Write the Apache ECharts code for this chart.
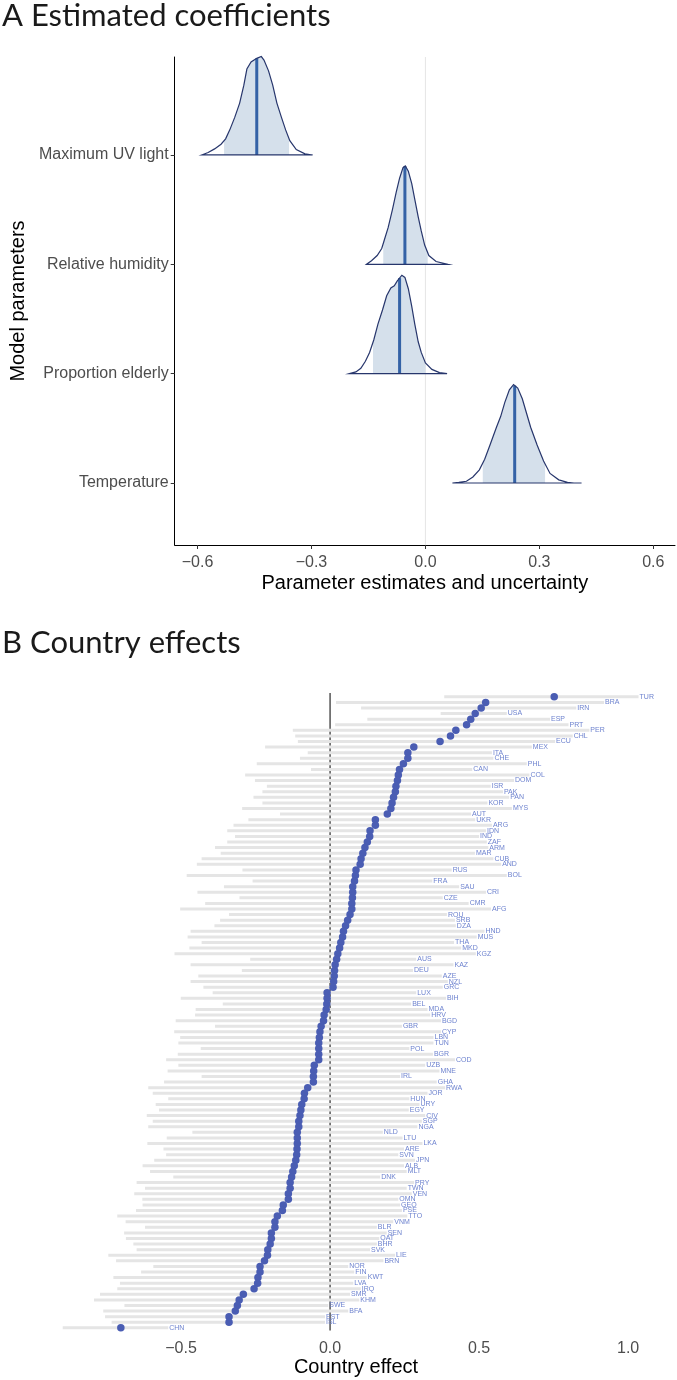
<!DOCTYPE html>
<html><head><meta charset="utf-8">
<script src="https://cdn.jsdelivr.net/npm/echarts@6/dist/echarts.min.js"></script>
<style>html,body{margin:0;padding:0;background:#fff}#c{width:677px;height:1380px}</style>
</head><body><div id="c"></div>
<script>
// ---------- Panel A: estimated coefficients (ridges, bottom to top) ----------
const paramNames = ['Temperature', 'Proportion elderly', 'Relative humidity', 'Maximum UV light'];
const aTicks = [-0.6, -0.3, 0.0, 0.3, 0.6];

const tempX = [0.071,0.088,0.108,0.125,0.142,0.156,0.170,0.187,0.198,0.209,0.221,0.232,0.243,0.255,0.266,0.277,0.294,0.311,0.328,0.351,0.374,0.391,0.411];
const tempH = [0,0.007,0.018,0.061,0.134,0.242,0.386,0.567,0.675,0.819,0.946,1.0,0.964,0.856,0.711,0.567,0.386,0.224,0.097,0.032,0.007,0,0];
const eldX = [-0.200,-0.183,-0.170,-0.158,-0.147,-0.136,-0.125,-0.113,-0.102,-0.091,-0.082,-0.074,-0.062,-0.054,-0.045,-0.036,-0.028,-0.019,-0.011,0.0,0.017,0.037,0.057];
const eldH = [0,0.018,0.054,0.126,0.216,0.342,0.504,0.647,0.791,0.871,0.892,0.942,1.0,0.978,0.863,0.683,0.504,0.324,0.216,0.108,0.043,0.011,0];
const humX = [-0.155,-0.142,-0.127,-0.115,-0.108,-0.098,-0.087,-0.077,-0.068,-0.059,-0.053,-0.045,-0.036,-0.028,-0.019,-0.011,-0.002,0.009,0.028,0.060];
const humH = [0,0.036,0.089,0.161,0.25,0.375,0.554,0.732,0.875,0.982,1.0,0.946,0.821,0.661,0.482,0.339,0.196,0.089,0.029,0];
const uvX = [-0.589,-0.572,-0.555,-0.538,-0.526,-0.515,-0.502,-0.489,-0.478,-0.470,-0.459,-0.444,-0.432,-0.425,-0.413,-0.402,-0.391,-0.379,-0.368,-0.357,-0.340,-0.317,-0.297];
const uvH = [0,0.025,0.062,0.109,0.164,0.255,0.382,0.527,0.709,0.873,0.945,0.982,1.0,0.964,0.855,0.709,0.527,0.382,0.255,0.145,0.055,0.011,0];

const ridgeMedian = [0.235, -0.068, -0.054, -0.444];
const ridgeLow = [0.151, -0.138, -0.111, -0.530];
const ridgeHigh = [0.315, 0.0, 0.006, -0.359];

// ---------- Panel B: country effects (top to bottom) ----------
const countries = ['TUR','BRA','IRN','USA','ESP','PRT','PER','CHL','ECU','MEX',
 'ITA','CHE','PHL','CAN','COL','DOM','ISR','PAK','PAN','KOR',
 'MYS','AUT','UKR','ARG','IDN','IND','ZAF','ARM','MAR','CUB',
 'AND','RUS','BOL','FRA','SAU','CRI','CZE','CMR','AFG','ROU',
 'SRB','DZA','HND','MUS','THA','MKD','KGZ','AUS','KAZ','DEU',
 'AZE','NZL','GRC','LUX','BIH','BEL','MDA','HRV','BGD','GBR',
 'CYP','LBN','TUN','POL','BGR','COD','UZB','MNE','IRL','GHA',
 'RWA','JOR','HUN','URY','EGY','CIV','SGP','NGA','NLD','LTU',
 'LKA','ARE','SVN','JPN','ALB','MLT','DNK','PRY','TWN','VEN',
 'OMN','GEO','PSE','TTO','VNM','BLR','SEN','QAT','BHR','SVK',
 'LIE','BRN','NOR','FIN','KWT','LVA','IRQ','SMR','KHM','SWE',
 'BFA','EST','ISL','CHN'];
const effect = [0.752,0.522,0.507,0.487,0.472,0.458,0.422,0.404,0.369,0.281,
 0.261,0.261,0.246,0.233,0.229,0.226,0.221,0.219,0.213,0.208,
 0.204,0.192,0.152,0.152,0.134,0.133,0.125,0.117,0.110,0.104,
 0.101,0.087,0.085,0.082,0.076,0.076,0.075,0.073,0.073,0.067,
 0.059,0.052,0.045,0.042,0.036,0.032,0.026,0.022,0.017,0.015,
 0.014,0.012,0.010,-0.010,-0.010,-0.011,-0.013,-0.020,-0.022,-0.030,
 -0.034,-0.036,-0.038,-0.038,-0.038,-0.038,-0.053,-0.055,-0.056,-0.056,
 -0.075,-0.086,-0.087,-0.095,-0.098,-0.101,-0.105,-0.105,-0.110,-0.110,
 -0.110,-0.111,-0.112,-0.115,-0.120,-0.125,-0.129,-0.134,-0.134,-0.140,
 -0.140,-0.157,-0.160,-0.177,-0.185,-0.185,-0.197,-0.197,-0.201,-0.209,
 -0.210,-0.220,-0.235,-0.235,-0.242,-0.243,-0.255,-0.291,-0.305,-0.311,
 -0.318,-0.339,-0.339,-0.702];
const effectLow = [0.383,0.020,0.104,0.371,0.125,0.017,-0.125,-0.117,-0.108,-0.218,
 -0.075,-0.101,-0.246,-0.064,-0.285,-0.252,-0.212,-0.227,-0.257,-0.227,
 -0.295,-0.168,-0.274,-0.324,-0.345,-0.319,-0.345,-0.386,-0.367,-0.431,
 -0.447,-0.294,-0.481,-0.260,-0.356,-0.445,-0.304,-0.419,-0.503,-0.339,
 -0.369,-0.388,-0.468,-0.478,-0.431,-0.472,-0.522,-0.268,-0.468,-0.296,
 -0.442,-0.468,-0.425,-0.394,-0.501,-0.360,-0.451,-0.453,-0.518,-0.386,
 -0.523,-0.503,-0.509,-0.434,-0.511,-0.550,-0.509,-0.545,-0.431,-0.557,
 -0.610,-0.595,-0.543,-0.585,-0.574,-0.615,-0.595,-0.610,-0.462,-0.548,
 -0.613,-0.559,-0.550,-0.590,-0.629,-0.604,-0.526,-0.649,-0.621,-0.657,
 -0.630,-0.629,-0.651,-0.714,-0.686,-0.621,-0.691,-0.685,-0.660,-0.649,
 -0.744,-0.718,-0.593,-0.634,-0.727,-0.705,-0.714,-0.772,-0.792,-0.690,
 -0.761,-0.755,-0.733,-0.897];
const effectHigh = [1.035,0.919,0.826,0.593,0.738,0.800,0.870,0.814,0.755,0.677,
 0.543,0.548,0.660,0.477,0.669,0.617,0.539,0.580,0.601,0.528,
 0.610,0.473,0.487,0.543,0.523,0.500,0.526,0.531,0.486,0.548,
 0.574,0.408,0.593,0.343,0.433,0.523,0.378,0.465,0.540,0.392,
 0.419,0.422,0.518,0.492,0.416,0.440,0.489,0.289,0.414,0.278,
 0.375,0.395,0.378,0.289,0.389,0.272,0.327,0.336,0.372,0.241,
 0.372,0.347,0.347,0.266,0.345,0.419,0.319,0.367,0.235,0.358,
 0.386,0.327,0.266,0.300,0.264,0.319,0.308,0.293,0.177,0.243,
 0.310,0.248,0.229,0.285,0.248,0.257,0.168,0.282,0.257,0.274,
 0.229,0.235,0.241,0.259,0.212,0.157,0.190,0.165,0.157,0.134,
 0.218,0.179,0.061,0.081,0.123,0.078,0.103,0.067,0.098,-0.006,
 0.061,-0.017,-0.017,-0.543];
const bTicks = [-0.5, 0.0, 0.5, 1.0];

// ---------- build ----------
const ridgeX = [tempX, eldX, humX, uvX];
const ridgeH = [tempH, eldH, humH, uvH];
const RIDGE = 0.9;
function heightAt(xs, hs, x) {
  for (let i = 0; i < xs.length - 1; i++) {
    if (x >= xs[i] && x <= xs[i + 1]) {
      const t = (x - xs[i]) / (xs[i + 1] - xs[i]);
      return hs[i] + t * (hs[i + 1] - hs[i]);
    }
  }
  return 0;
}
const fmt = v => (v < 0 ? '\u2212' : '') + Math.abs(v).toFixed(1);
const FONT = '"Liberation Sans", Arial, sans-serif';

const chart = echarts.init(document.getElementById('c'), null, {renderer: 'canvas'});
chart.setOption({
  animation: false,
  backgroundColor: '#fff',
  graphic: [
    {type: 'text', left: 2, top: 0, style: {text: 'A Estimated coefficients', font: '31px Lato', fill: '#1a1a1a'}},
    {type: 'text', left: 2, top: 627, style: {text: 'B Country effects', font: '31px Lato', fill: '#1a1a1a'}}
  ],
  grid: [
    {left: 172, top: 57, width: 503, height: 488},
    {left: 35, top: 694, width: 642, height: 636.6}
  ],
  xAxis: [
    {type: 'value', gridIndex: 0, min: -0.66, max: 0.657, splitLine: {show: false},
     axisLine: {onZero: false, lineStyle: {color: '#000', width: 1}},
     axisTick: {customValues: aTicks, length: 4, lineStyle: {color: '#333'}},
     axisLabel: {customValues: aTicks, formatter: fmt, fontSize: 16, color: '#4d4d4d', fontFamily: FONT, margin: 10},
     name: 'Parameter estimates and uncertainty', nameLocation: 'middle', nameGap: 28,
     nameTextStyle: {fontSize: 20, color: '#000', fontFamily: FONT}},
    {type: 'value', gridIndex: 1, min: -0.99, max: 1.164, splitLine: {show: false},
     axisLine: {onZero: false, lineStyle: {color: '#000', width: 1}},
     axisTick: {customValues: bTicks, length: 4, lineStyle: {color: '#333'}},
     axisLabel: {customValues: bTicks, formatter: fmt, fontSize: 16, color: '#4d4d4d', fontFamily: FONT, margin: 10},
     name: 'Country effect', nameLocation: 'middle', nameGap: 26,
     nameTextStyle: {fontSize: 20, color: '#000', fontFamily: FONT}}
  ],
  yAxis: [
    {type: 'value', gridIndex: 0, min: 0.433, max: 4.896, splitLine: {show: false},
     axisLine: {show: true, onZero: false, lineStyle: {color: '#000', width: 1}},
     axisTick: {show: true, customValues: [1, 2, 3, 4], length: 4, lineStyle: {color: '#333'}},
     axisLabel: {customValues: [1, 2, 3, 4], formatter: v => paramNames[Math.round(v) - 1], fontSize: 16, color: '#4d4d4d', fontFamily: FONT, margin: 6},
     name: 'Model parameters', nameLocation: 'middle', nameGap: 140, nameRotate: 90,
     nameTextStyle: {fontSize: 20, color: '#000', fontFamily: FONT}},
    {type: 'category', gridIndex: 1, data: countries, inverse: true,
     axisLine: {show: false, onZero: false}, axisTick: {show: false}, axisLabel: {show: false}, splitLine: {show: false}}
  ],
  series: [
    // zero reference line, panel A
    {type: 'custom', xAxisIndex: 0, yAxisIndex: 0, z: 1, silent: true, data: [[0, 1]],
     renderItem: (params, api) => {
       const cs = params.coordSys; const p = api.coord([0, 1]);
       return {type: 'line', shape: {x1: p[0], y1: cs.y, x2: p[0], y2: cs.y + cs.height},
               style: {stroke: '#e6e6e6', lineWidth: 1}};
     }},
    // ridges
    {type: 'custom', xAxisIndex: 0, yAxisIndex: 0, z: 2, silent: true,
     data: ridgeMedian.map((m, i) => [m, i + 1]),
     renderItem: (params, api) => {
       const k = params.dataIndex, base = k + 1;
       const xs = ridgeX[k], hs = ridgeH[k];
       const outline = xs.map((x, i) => api.coord([x, base + hs[i] * RIDGE]));
       const lo = ridgeLow[k], hi = ridgeHigh[k], med = ridgeMedian[k];
       const fillPts = [api.coord([lo, base]), api.coord([lo, base + heightAt(xs, hs, lo) * RIDGE])];
       xs.forEach((x, i) => { if (x > lo && x < hi) fillPts.push(outline[i]); });
       fillPts.push(api.coord([hi, base + heightAt(xs, hs, hi) * RIDGE]), api.coord([hi, base]));
       const m0 = api.coord([med, base]), m1 = api.coord([med, base + heightAt(xs, hs, med) * RIDGE]);
       return {type: 'group', children: [
         {type: 'polygon', shape: {points: fillPts}, style: {fill: '#d5e0eb'}},
         {type: 'line', shape: {x1: m0[0], y1: m0[1], x2: m1[0], y2: m1[1]}, style: {stroke: '#3462a6', lineWidth: 3}},
         {type: 'polygon', shape: {points: outline}, style: {fill: null, stroke: '#27366c', lineWidth: 1.2}}
       ]};
     }},
    // zero line, panel B
    {type: 'custom', xAxisIndex: 1, yAxisIndex: 1, z: 1, silent: true, data: [[0, 0]],
     renderItem: (params, api) => {
       const cs = params.coordSys; const p = api.coord([0, 0]);
       return {type: 'line', shape: {x1: p[0], y1: cs.y - 1, x2: p[0], y2: cs.y + cs.height},
               style: {stroke: '#3a3a3a', lineWidth: 1.3}};
     }},
    // intervals
    {type: 'custom', xAxisIndex: 1, yAxisIndex: 1, z: 2, silent: true,
     data: countries.map((c, i) => [effectLow[i], effectHigh[i], i]),
     renderItem: (params, api) => {
       const i = api.value(2);
       const a = api.coord([api.value(0), i]), b = api.coord([api.value(1), i]);
       return {type: 'line', shape: {x1: a[0], y1: a[1], x2: b[0], y2: b[1]},
               style: {stroke: '#e5e5e5', lineWidth: 3}};
     }},
    // estimates
    {type: 'scatter', xAxisIndex: 1, yAxisIndex: 1, z: 3, silent: true,
     data: countries.map((c, i) => [effect[i], i]),
     symbolSize: 7.5, itemStyle: {color: '#4a5db3', opacity: 1}},
    // labels
    {type: 'custom', xAxisIndex: 1, yAxisIndex: 1, z: 4, silent: true,
     data: countries.map((c, i) => [effectHigh[i], i]),
     renderItem: (params, api) => {
       const i = api.value(1);
       const p = api.coord([api.value(0), i]);
       return {type: 'text', x: p[0] + 1, y: p[1],
               style: {text: countries[i], fill: '#6e83cf', font: '7px ' + FONT, align: 'left', verticalAlign: 'middle'}};
     }}
  ]
});
</script>
</body></html>
